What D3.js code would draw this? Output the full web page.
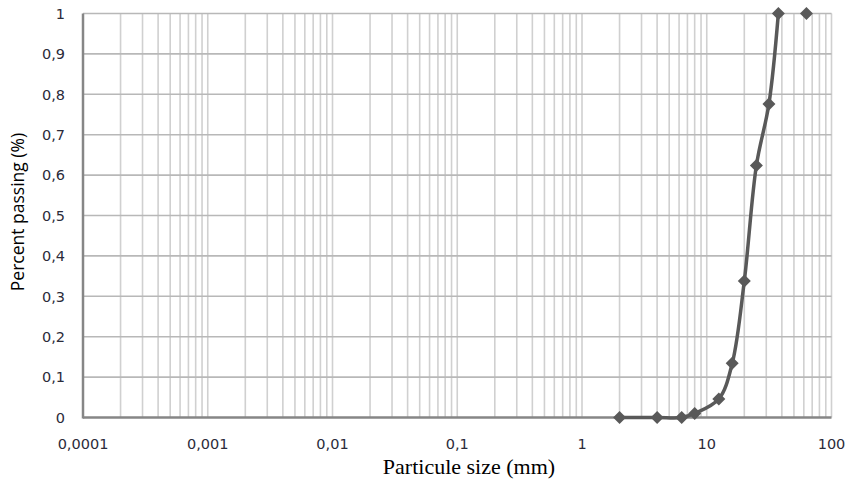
<!DOCTYPE html>
<html>
<head>
<meta charset="utf-8">
<script src="https://cdn.jsdelivr.net/npm/d3@7"></script>
<style>
  body { margin: 0; background: #fff; }
</style>
</head>
<body>
<div id="chart"></div>
<script>
// sieve sizes (mm) and fraction passing
const sizes = [2, 4, 6.3, 8, 12.5, 16, 20, 25, 31.5, 37.5, 63];
const passing = [0, 0, 0, 0.01, 0.046, 0.134, 0.338, 0.624, 0.776, 1, 1];
const xTicks = [0.0001, 0.001, 0.01, 0.1, 1, 10, 100];
const xTickLabels = ["0,0001", "0,001", "0,01", "0,1", "1", "10", "100"];
const yTicks = [0, 0.1, 0.2, 0.3, 0.4, 0.5, 0.6, 0.7, 0.8, 0.9, 1];

const width = 846, height = 486;
const margin = {left: 83, right: 14.5, top: 13.5, bottom: 68.5};

const svg = d3.select("#chart").append("svg")
  .attr("width", width)
  .attr("height", height);

const x = d3.scaleLog()
  .domain([0.0001, 100])
  .range([margin.left, width - margin.right]);

const y = d3.scaleLinear()
  .domain([0, 1])
  .range([height - margin.bottom, margin.top]);

// vertical grid: every 1..9 step in each decade
let minor = [];
for (let e = -4; e < 2; e++) {
  for (let k = 1; k < 10; k++) minor.push(k * Math.pow(10, e));
}
minor.push(100);

svg.append("g")
  .selectAll("line")
  .data(minor.slice(1))
  .join("line")
    .attr("x1", d => x(d)).attr("x2", d => x(d))
    .attr("y1", y(0)).attr("y2", y(1))
    .attr("stroke", "#d0d0d0")
    .attr("stroke-width", 1.6);

// horizontal grid
svg.append("g")
  .selectAll("line")
  .data(yTicks.slice(1))
  .join("line")
    .attr("x1", x(0.0001)).attr("x2", x(100))
    .attr("y1", d => y(d)).attr("y2", d => y(d))
    .attr("stroke", "#b8b8b8")
    .attr("stroke-width", 1.6);

// axis lines
svg.append("line")
  .attr("x1", x(0.0001)).attr("x2", x(0.0001))
  .attr("y1", y(0) + 1).attr("y2", y(1))
  .attr("stroke", "#868686").attr("stroke-width", 2.5);
svg.append("line")
  .attr("x1", x(0.0001)).attr("x2", x(100))
  .attr("y1", y(0)).attr("y2", y(0))
  .attr("stroke", "#868686").attr("stroke-width", 2.5);

// tick labels
svg.append("g")
  .selectAll("text")
  .data(yTicks)
  .join("text")
    .attr("x", 65)
    .attr("y", d => y(d))
    .attr("dy", "0.36em")
    .attr("text-anchor", "end")
    .style("font-family", "DejaVu Sans")
    .style("font-size", "14.5px")
    .attr("fill", "#2b2b3a")
    .text(d => d3.format(".1~f")(d).replace(".", ","));

svg.append("g")
  .selectAll("text")
  .data(xTicks)
  .join("text")
    .attr("x", d => x(d))
    .attr("y", 449)
    .attr("text-anchor", "middle")
    .style("font-family", "DejaVu Sans")
    .style("font-size", "14.5px")
    .attr("fill", "#2b2b3a")
    .text((d, i) => xTickLabels[i]);

// axis titles
svg.append("text")
  .attr("x", 469)
  .attr("y", 474)
  .attr("text-anchor", "middle")
  .style("font-family", "Liberation Serif")
  .style("font-size", "22px")
  .attr("fill", "#000")
  .text("Particule size (mm)");

svg.append("text")
  .attr("transform", `translate(24, 212) rotate(-90)`)
  .attr("text-anchor", "middle")
  .style("font-family", "Open Sans")
  .style("font-size", "17.5px")
  .attr("fill", "#000")
  .text("Percent passing (%)");

// data line
const data = sizes.map((s, i) => ({size: s, pass: passing[i]}));

const line = d3.line()
  .x(d => x(d.size))
  .y(d => y(d.pass))
  .curve(d3.curveCatmullRom);

svg.append("path")
  .datum(data.slice(0, 10))
  .attr("d", line)
  .attr("fill", "none")
  .attr("stroke", "#595959")
  .attr("stroke-width", 3.5);

svg.append("g")
  .selectAll("path")
  .data(data)
  .join("path")
    .attr("transform", d => `translate(${x(d.size)},${y(d.pass)})`)
    .attr("d", "M0,-6.5L6.5,0L0,6.5L-6.5,0Z")
    .attr("fill", "#595959");
</script>
</body>
</html>
